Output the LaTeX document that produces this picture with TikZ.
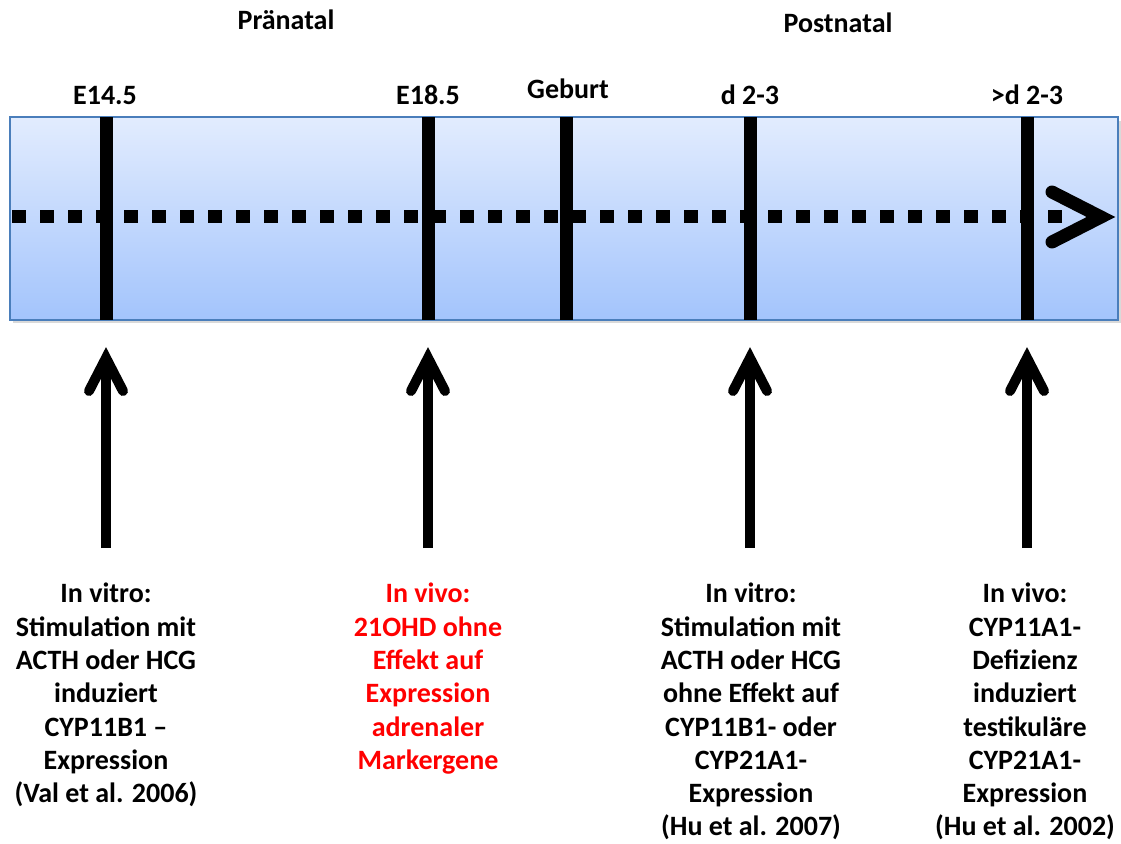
\documentclass[tikz,border=0pt]{standalone}
\usepackage{fontspec}
\setmainfont{Carlito}
\usepackage{tikz}
\usetikzlibrary{calc}
\definecolor{bartop}{HTML}{E2ECFE}
\definecolor{barbot}{HTML}{A3C4FC}
\definecolor{barline}{HTML}{4A7EBB}
\tikzset{
	vline/.style={line width=13pt},
	uparr/.style={line width=10pt},
	head/.style={line width=10pt,line cap=round,miter limit=10},
	lbl/.style={font=\bfseries\fontsize{28}{32}\selectfont,anchor=base},
	txt/.style={font=\bfseries\fontsize{28}{33.3}\selectfont,align=center,anchor=north,inner sep=0pt},
	rtxt/.style={txt,text=red}
}

\begin{document}
\begin{tikzpicture}[x=1pt,y=-1pt]
	\useasboundingbox (0,0) rectangle (1121,843);

	% Zeitleiste
	\fill[black!15] (13,121) rectangle (1121,323);
	\shade[top color=bartop,bottom color=barbot] (10,117) rectangle (1118,320);
	\draw[barline,line width=1.5pt] (10,117) rectangle (1118,320);

	\draw[line width=13pt,dash pattern=on 14pt off 14pt] (12,216) -- (1072,216);
	\draw[line width=13pt,line cap=round,miter limit=10] (1052,192) -- (1101,217) -- (1052,242);

	\coordinate (e14) at (106,320);
	\coordinate (e18) at (428,320);
	\coordinate (geb) at (566,320);
	\coordinate (d23) at (750,320);
	\coordinate (dd23) at (1027,320);

	\draw[vline] (106,117) -- (e14);
	\draw[vline] (428,117) -- (e18);
	\draw[vline] (566,117) -- (geb);
	\draw[vline] (750,117) -- (d23);
	\draw[vline] (1027,117) -- (dd23);

	\node[lbl] (le14) at (105,104) {E14.5};
	\node[lbl] (le18) at (428,104) {E18.5};
	\node[lbl] (lgeb) at (568,98) {Geburt};
	\node[lbl] (ld23) at (750,104) {d 2-3};
	\node[lbl] (ldd23) at (1027,104) {>d 2-3};
	\node[lbl] (pre) at (286,30) {Pränatal};
	\node[lbl] (post) at (838,33) {Postnatal};

	% Pfeile
	\coordinate (a1) at (106,548);
	\coordinate (a2) at (428,548);
	\coordinate (a3) at (750,548);
	\coordinate (a4) at (1027,548);
	\coordinate (h1) at (106,358);
	\coordinate (h2) at (428,358);
	\coordinate (h3) at (750,358);
	\coordinate (h4) at (1027,358);

	\draw[uparr] (a1) -- (h1);
	\draw[uparr] (a2) -- (h2);
	\draw[uparr] (a3) -- (h3);
	\draw[uparr] (a4) -- (h4);
	\draw[head] ($(h1)+(-17,33)$) -- (h1) -- ($(h1)+(17,33)$);
	\draw[head] ($(h2)+(-17,33)$) -- (h2) -- ($(h2)+(17,33)$);
	\draw[head] ($(h3)+(-17,33)$) -- (h3) -- ($(h3)+(17,33)$);
	\draw[head] ($(h4)+(-17,33)$) -- (h4) -- ($(h4)+(17,33)$);

	% Texte
	\node[txt] (t1) at (106,583) {In vitro:\\Stimulation mit\\ACTH oder HCG\\induziert\\CYP11B1 --\\Expression\\(Val et al. 2006)};
	\node[rtxt] (t2) at (428,583) {In vivo:\\21OHD ohne\\Effekt auf\\Expression\\adrenaler\\Markergene};
	\node[txt] (t3) at (751,583) {In vitro:\\Stimulation mit\\ACTH oder HCG\\ohne Effekt auf\\CYP11B1- oder\\CYP21A1-\\Expression\\(Hu et al. 2007)};
	\node[txt] (t4) at (1025,583) {In vivo:\\CYP11A1-\\Defizienz\\induziert\\testikuläre\\CYP21A1-\\Expression\\(Hu et al. 2002)};
\end{tikzpicture}
\end{document}
